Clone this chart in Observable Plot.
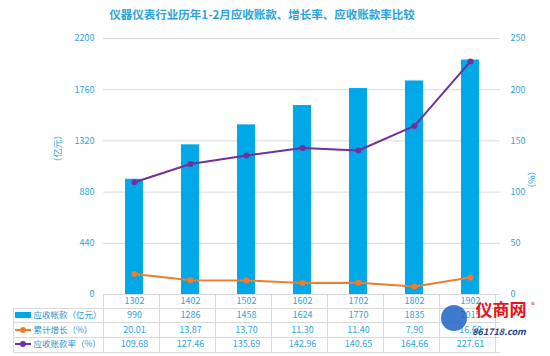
<!DOCTYPE html>
<html>
<head>
<meta charset="utf-8">
<script src="https://cdn.jsdelivr.net/npm/d3@7"></script>
<script src="https://cdn.jsdelivr.net/npm/@observablehq/plot@0.6"></script>
<style>
  html, body { margin: 0; padding: 0; background: #fff; }
  #chart svg { display: block; }
</style>
</head>
<body>
<div id="chart"></div>
<script>
const title = "仪器仪表行业历年1-2月应收账款、增长率、应收账款率比较";
const categories = ["1302", "1402", "1502", "1602", "1702", "1802", "1902"];
const receivables = [990, 1286, 1458, 1624, 1770, 1835, 2015];
const growth = [20.01, 13.87, 13.70, 11.30, 11.40, 7.90, 16.60];
const ratio = [109.68, 127.46, 135.69, 142.96, 140.65, 164.66, 227.61];
const leftTicks = [0, 440, 880, 1320, 1760, 2200];
const rightTicks = [0, 50, 100, 150, 200, 250];
const seriesNames = ["应收帐款（亿元）", "累计增长（%）", "应收账款率（%）"];
const leftTitle = "（亿元）";
const rightTitle = "（%）";

const leftMax = 2200, rightMax = 250;
const k = leftMax / rightMax; // map right-axis values onto the left scale

const rows = categories.map((c, i) => ({
  cat: c, rec: receivables[i], growth: growth[i], ratio: ratio[i]
}));

const blue = "#00a8e8";
const orange = "#ed7d31";
const purple = "#7030a0";
const textBlue = "#2ea4dc";
const gridGray = "#d9d9d9";
const font = "'Noto Sans CJK SC', 'Noto Sans', sans-serif";

const rowDy = [7, 21, 36, 50];

const cellText = (fmt, dy) => Plot.text(rows, {
  x: "cat", text: fmt, frameAnchor: "bottom", dy, lineAnchor: "middle", fill: textBlue, fontSize: 9
});
const nameText = (i) => Plot.text([seriesNames[i]], {
  frameAnchor: "bottom-left", dx: -70, dy: rowDy[i + 1], textAnchor: "start", lineAnchor: "middle", fill: "#1f97d4", fontSize: 8.5
});

const plot = Plot.plot({
  width: 550,
  height: 356,
  marginLeft: 103,
  marginRight: 50,
  marginTop: 38,
  marginBottom: 62,
  style: { fontFamily: font, fontSize: "9px", color: textBlue, background: "#fff" },
  x: { domain: categories, paddingInner: 0.68, paddingOuter: 0.34, axis: null },
  y: { domain: [0, leftMax], axis: null },
  marks: [
    Plot.gridY(leftTicks.slice(1), { stroke: gridGray, strokeOpacity: 1, strokeWidth: 1 }),
    Plot.axisY(leftTicks, { anchor: "left", tickSize: 0, tickPadding: 9, label: null, fill: textBlue, fontSize: 9, tickFormat: d => String(d) }),
    Plot.axisY(rightTicks.map(v => v * k), {
      anchor: "right", tickSize: 0, tickPadding: 10, label: null, fill: textBlue, fontSize: 9,
      tickFormat: v => String(Math.round(v / k))
    }),
    Plot.barY(rows, { x: "cat", y: "rec", fill: blue }),
    Plot.line(rows, { x: "cat", y: d => d.ratio * k, stroke: purple, strokeWidth: 2 }),
    Plot.dot(rows, { x: "cat", y: d => d.ratio * k, fill: purple, r: 3 }),
    Plot.line(rows, { x: "cat", y: d => d.growth * k, stroke: orange, strokeWidth: 2 }),
    Plot.dot(rows, { x: "cat", y: d => d.growth * k, fill: orange, r: 3 }),
    // title
    Plot.text([title], { frameAnchor: "top", dx: -40, dy: -23, fontWeight: "bold", fontSize: 11.5, fill: "#2aa3dd", lineAnchor: "middle" }),
    // axis titles
    Plot.text([leftTitle], { frameAnchor: "left", dx: -45, rotate: -90, fill: textBlue, fontSize: 9 }),
    Plot.text([rightTitle], { frameAnchor: "right", dx: 32, rotate: -90, fill: textBlue, fontSize: 9 }),
    // data table
    cellText("cat", rowDy[0]),
    cellText(d => String(d.rec), rowDy[1]),
    cellText(d => d.growth.toFixed(2), rowDy[2]),
    cellText(d => d.ratio.toFixed(2), rowDy[3]),
    nameText(0), nameText(1), nameText(2)
  ]
});

document.getElementById("chart").appendChild(plot);

const svg = d3.select(plot);
const xs = plot.scale("x");
const ys = plot.scale("y");
const x0 = xs.range[0], x1 = xs.range[1], step = xs.step;
const yb = ys.apply(0);
const tableLeft = 13;
const lineYs = [0, 14, 28, 43, 58].map(d => yb + d);

const g = svg.insert("g", ":first-child").attr("stroke", gridGray).attr("stroke-width", 1).attr("fill", "none");
g.append("line").attr("x1", x0).attr("x2", x1).attr("y1", lineYs[0] + 0.5).attr("y2", lineYs[0] + 0.5);
for (let i = 1; i < lineYs.length; i++) {
  g.append("line").attr("x1", tableLeft).attr("x2", x1).attr("y1", lineYs[i] + 0.5).attr("y2", lineYs[i] + 0.5);
}
g.append("line").attr("x1", tableLeft + 0.5).attr("x2", tableLeft + 0.5).attr("y1", lineYs[1]).attr("y2", lineYs[4]);
for (let j = 0; j <= categories.length; j++) {
  const xx = Math.round(x0 + j * step) + 0.5;
  g.append("line").attr("x1", xx).attr("x2", xx).attr("y1", lineYs[0]).attr("y2", lineYs[4]);
}

// legend keys
const keyX0 = 15, keyX1 = 31;
const rowCenters = rowDy.map(d => yb + d);
svg.append("rect").attr("x", keyX0).attr("y", rowCenters[1] - 3).attr("width", keyX1 - keyX0).attr("height", 6).attr("fill", blue);
[[orange, rowCenters[2]], [purple, rowCenters[3]]].forEach(([c, y]) => {
  svg.append("line").attr("x1", keyX0).attr("x2", keyX1).attr("y1", y).attr("y2", y).attr("stroke", c).attr("stroke-width", 2);
  svg.append("circle").attr("cx", (keyX0 + keyX1) / 2).attr("cy", y).attr("r", 3).attr("fill", c);
});

// watermark
const wm = svg.append("g");
wm.append("circle").attr("cx", x1 - 46).attr("cy", yb + 24).attr("r", 13).attr("fill", "#1f63c6").attr("opacity", 0.85);
wm.append("text").attr("x", x1 + 1).attr("y", yb + 22).attr("text-anchor", "middle")
  .attr("font-family", font).attr("font-weight", "bold").attr("font-size", 17).attr("fill", "#e8141b").text("仪商网");
wm.append("text").attr("x", x1 + 33).attr("y", yb + 14).attr("text-anchor", "middle")
  .attr("font-family", font).attr("font-size", 8).attr("fill", "#e8141b").text("®");
wm.append("text").attr("x", x1 - 1).attr("y", yb + 41).attr("text-anchor", "middle")
  .attr("font-family", font).attr("font-style", "italic").attr("font-weight", "bold").attr("font-size", 9).attr("fill", "#1d3f8a").text("861718.com");
</script>
</body>
</html>
